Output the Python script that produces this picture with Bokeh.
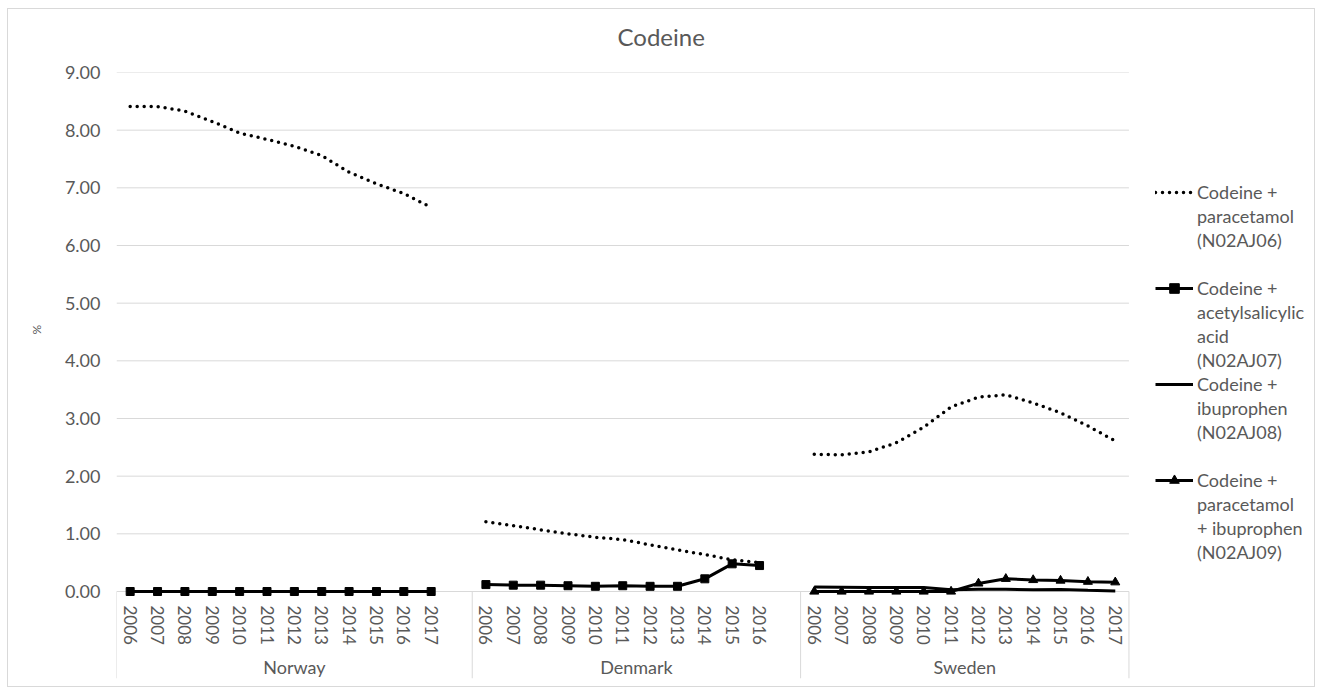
import math
from bokeh.plotting import figure
from bokeh.models import (FactorRange, Range1d, ColumnDataSource, CategoricalAxis,
                          FixedTicker, NumeralTickFormatter, Legend, LegendItem, Title,
                          InlineStyleSheet)
from bokeh.core.properties import value
from bokeh.embed import file_html
from bokeh.resources import INLINE

NAN = float("nan")

# ---------------- data ----------------
countries = ["Norway", "Denmark", "Sweden"]
years_norway = ["2006", "2007", "2008", "2009", "2010", "2011", "2012", "2013", "2014", "2015", "2016", "2017"]
years_denmark = ["2006", "2007", "2008", "2009", "2010", "2011", "2012", "2013", "2014", "2015", "2016"]
years_sweden = ["2006", "2007", "2008", "2009", "2010", "2011", "2012", "2013", "2014", "2015", "2016", "2017"]

# Codeine + paracetamol (N02AJ06)
para_norway = [8.41, 8.41, 8.33, 8.15, 7.95, 7.84, 7.72, 7.56, 7.27, 7.07, 6.90, 6.66]
para_denmark = [1.21, 1.14, 1.07, 1.00, 0.94, 0.90, 0.81, 0.72, 0.64, 0.55, 0.50]
para_sweden = [2.38, 2.37, 2.42, 2.58, 2.85, 3.20, 3.37, 3.41, 3.27, 3.10, 2.87, 2.61]
# Codeine + acetylsalicylic acid (N02AJ07)
asa_norway = [0.0, 0.0, 0.0, 0.0, 0.0, 0.0, 0.0, 0.0, 0.0, 0.0, 0.0, 0.0]
asa_denmark = [0.12, 0.11, 0.11, 0.10, 0.09, 0.10, 0.09, 0.09, 0.22, 0.48, 0.45]
# Codeine + ibuprophen (N02AJ08)
ibu_sweden = [0.08, 0.075, 0.07, 0.07, 0.07, 0.03, 0.04, 0.04, 0.03, 0.035, 0.02, 0.01]
# Codeine + paracetamol + ibuprophen (N02AJ09)
tri_sweden = [0.0, 0.0, 0.0, 0.0, 0.0, 0.0, 0.14, 0.22, 0.20, 0.19, 0.17, 0.16]

y_ticks = [0, 1, 2, 3, 4, 5, 6, 7, 8, 9]
title_text = "Codeine"
y_label = "%"
legend_labels = [
    ["Codeine +", "paracetamol", "(N02AJ06)"],
    ["Codeine +", "acetylsalicylic", "acid", "(N02AJ07)"],
    ["Codeine +", "ibuprophen", "(N02AJ08)"],
    ["Codeine +", "paracetamol", "+ ibuprophen", "(N02AJ09)"],
]

# ---------------- build categorical table ----------------
groups = [("Norway", years_norway, True), ("Denmark", years_denmark, True), ("Sweden", years_sweden, False)]
factors = []
for c, yrs, pad in groups:
    factors += [(c, y) for y in yrs]
    if pad:
        factors.append((c, ""))

# empty slots to the right of the chart, reserved for the legend
LEGEND_SLOTS = 7
legend_space = [(" ", " " * (k + 1)) for k in range(LEGEND_SLOTS)]


def column(per_country):
    out = []
    for c, yrs, pad in groups:
        vals = per_country.get(c)
        out += list(vals) if vals is not None else [NAN] * len(yrs)
        if pad:
            out.append(NAN)
    return out


src = ColumnDataSource(dict(
    x=factors,
    para=column({"Norway": para_norway, "Denmark": para_denmark, "Sweden": para_sweden}),
    asa=column({"Norway": asa_norway, "Denmark": asa_denmark}),
    ibu=column({"Sweden": ibu_sweden}),
    tri=column({"Sweden": tri_sweden}),
))

# ---------------- figure ----------------
W, H = 1320, 688
ML, MR, MT, MB = 116, 0, 72, 10
Y_TOP = 9.0
PX_PER_UNIT = 519.0 / 9.0
Y_BOTTOM = Y_TOP - (H - MT - MB) / PX_PER_UNIT

FONT = "Lato"
GREY_TXT = "#595959"
GRID = "#d9d9d9"

p = figure(width=W, height=H,
           x_range=FactorRange(*(factors + legend_space), factor_padding=0, group_padding=0,
                               subgroup_padding=0, range_padding=0),
           y_range=Range1d(Y_BOTTOM, Y_TOP),
           output_backend="svg", toolbar_location=None,
           min_border_left=ML, min_border_right=MR, min_border_top=MT, min_border_bottom=MB)
p.outline_line_color = None
p.background_fill_color = "white"
p.border_fill_color = "white"
p.stylesheets = [InlineStyleSheet(css=(
    ":host { position: relative; }"
    ":host::after { content: ''; position: absolute; left: 7px; top: 8px; "
    "width: 1306px; height: 677px; border: 1px solid #d9d9d9; "
    "pointer-events: none; z-index: 100; }"))]

# title
p.title.text = title_text
p.title.align = "left"
p.title.offset = 501
p.title.standoff = 41
p.title.vertical_align = "middle"
p.title.text_font = FONT
p.title.text_font_size = "24px"
p.title.text_font_style = "normal"
p.title.text_color = GREY_TXT

# grids: horizontal lines only across the chart area
p.xgrid.grid_line_color = None
p.ygrid.grid_line_color = None
x_first = (countries[0], years_norway[0], -0.5)
x_last = (countries[2], years_sweden[-1], 0.5)
p.segment(x0=[x_first] * len(y_ticks), y0=y_ticks, x1=[x_last] * len(y_ticks), y1=y_ticks,
          line_color=GRID, line_width=1)

# y axis
ya = p.yaxis[0]
ya.ticker = FixedTicker(ticks=y_ticks)
ya.formatter = NumeralTickFormatter(format="0.00")
ya.axis_line_color = None
ya.major_tick_line_color = None
ya.minor_tick_line_color = None
ya.major_tick_out = 0
ya.major_label_standoff = 16
ya.major_label_text_font = FONT
ya.major_label_text_font_size = "18px"
ya.major_label_text_color = GREY_TXT

# y axis title, placed along the 0..9 span
ytitle = Title(text=y_label, align="left", offset=344, standoff=36,
               text_font=FONT, text_font_size="12px", text_font_style="normal",
               text_color=GREY_TXT)
p.add_layout(ytitle, "left")

# x axis: years
xa = p.xaxis[0]
xa.fixed_location = 0
xa.axis_line_color = None
xa.major_tick_line_color = None
xa.major_tick_out = 0
xa.major_tick_in = 0
xa.major_label_orientation = "vertical"
xa.major_label_standoff = 14
xa.major_label_text_font = FONT
xa.major_label_text_font_size = "17px"
xa.major_label_text_color = GREY_TXT
xa.group_text_color = None
xa.separator_line_color = None

# x axis: countries
xg = CategoricalAxis(fixed_location=0)
xg.axis_line_color = None
xg.major_tick_line_color = None
xg.major_tick_out = 0
xg.major_tick_in = 0
xg.major_label_text_color = None
xg.major_label_standoff = 64
xg.group_text_font = FONT
xg.group_text_font_size = "18px"
xg.group_text_font_style = "normal"
xg.group_text_color = GREY_TXT
xg.separator_line_color = None
p.add_layout(xg, "below")

# group separators in the axis area
sep_x = [(countries[0], years_norway[0], -0.5), (countries[1], years_denmark[0], -0.5),
         (countries[2], years_sweden[0], -0.5), (countries[2], years_sweden[-1], 0.5)]
p.segment(x0=sep_x, y0=[0] * len(sep_x), x1=sep_x, y1=[Y_BOTTOM] * len(sep_x),
          line_color=GRID, line_width=1)

# series
r_para = p.line("x", "para", source=src, line_color="black", line_width=3.5,
                line_dash="0 7", line_cap="round")
r_asa_l = p.line("x", "asa", source=src, line_color="black", line_width=3)
r_asa_m = p.scatter("x", "asa", source=src, marker="square", size=8, color="black")
r_ibu = p.line("x", "ibu", source=src, line_color="black", line_width=3)
r_tri_l = p.line("x", "tri", source=src, line_color="black", line_width=3)
r_tri_m = p.scatter("x", "tri", source=src, marker="triangle", size=9, color="black")
dummy = p.line(x=[factors[0]], y=[NAN], line_alpha=0)

# legend: one item per wrapped text line, blank rows between entries
series_renderers = [[r_para], [r_asa_l, r_asa_m], [r_ibu], [r_tri_l, r_tri_m]]
gap_after = [1, 0, 1, 0]
items = []
for lines, rends, gap in zip(legend_labels, series_renderers, gap_after):
    items.append(LegendItem(label=value(lines[0]), renderers=rends))
    items += [LegendItem(label=value(t), renderers=[dummy]) for t in lines[1:]]
    items += [LegendItem(label=value(" "), renderers=[dummy]) for _ in range(gap)]

ITEM_H = 24
legend_top_page = 191.7 - ITEM_H / 2
legend_h = ITEM_H * len(items)
vy = round((H - MB) - legend_top_page - legend_h)
vx = 1155 - ML
leg = Legend(items=items, location=(vx, vy), orientation="vertical", nrows=len(items),
             glyph_width=38, glyph_height=ITEM_H, label_height=ITEM_H,
             label_standoff=4, spacing=0, padding=0, margin=0,
             border_line_color=None, background_fill_alpha=0,
             label_text_font=FONT, label_text_font_size="18px",
             label_text_color=GREY_TXT)
p.add_layout(leg)

open("out.html", "w").write(file_html(p, INLINE))
